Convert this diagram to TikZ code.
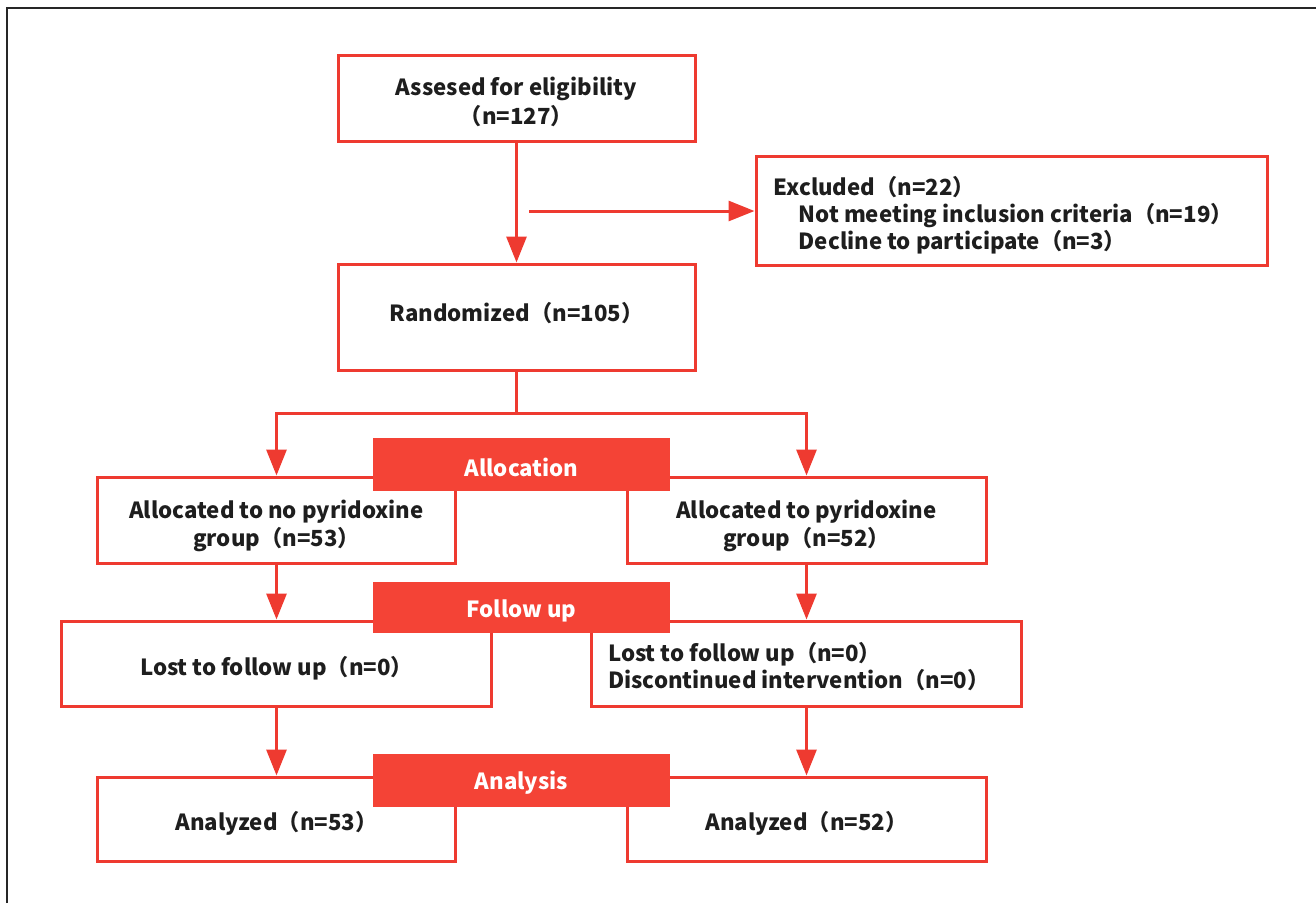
\documentclass[tikz,border=0pt]{standalone}
\usepackage{fontspec}
\setmainfont{Noto Sans CJK SC}
\usetikzlibrary{arrows.meta}
\definecolor{cred}{HTML}{EE3A30}
\definecolor{cband}{HTML}{F44336}
\definecolor{ctext}{HTML}{1E1E1E}
\begin{document}
\begin{tikzpicture}[x=1pt,y=-1pt,
  box/.style={draw=cred, line width=3pt, fill=white, inner sep=0pt},
  txt/.style={inner sep=0pt, align=center, font=\fontsize{22.2}{28.5}\selectfont\bfseries, text=ctext},
  ltxt/.style={txt, align=left, font=\fontsize{22.2}{27}\selectfont\bfseries},
  band/.style={fill=cband, inner sep=0pt, minimum width=297pt},
  btxt/.style={inner sep=0pt, text=white, font=\fontsize{22.2}{26}\selectfont\bfseries},
  arr/.style={draw=cred, line width=3pt, -{Triangle[length=26pt,width=20pt]}},
  ln/.style={draw=cred, line width=3pt}]
\useasboundingbox (0,0) rectangle (1316,903);
\draw[line width=2pt, black!85] (7,903) -- (7,8) -- (1316,8);

% boxes
\node[box, minimum width=357pt, minimum height=86pt] (b1) at (516.5,98) {};
\node[txt, yshift=-4pt] (b1t) at (b1) {Assesed for eligibility\\（n=127）};
\node[box, minimum width=357pt, minimum height=106pt] (b2) at (516.5,317) {};
\node[txt, yshift=4pt] (b2t) at (b2) {Randomized（n=105）};
\node[box, minimum width=511pt, minimum height=109pt] (exc) at (1011.5,210.5) {};
\node[ltxt, anchor=west, yshift=-5pt] (exct) at ([xshift=19pt]exc.west)
  {Excluded（n=22）\\\hspace*{25pt}Not meeting inclusion criteria（n=19）\\\hspace*{25pt}Decline to participate（n=3）};
\node[box, minimum width=358pt, minimum height=86pt] (alL) at (276.5,520) {};
\node[txt, yshift=-6pt] (alLt) at (alL) {Allocated to no pyridoxine\\group（n=53）};
\node[box, minimum width=359pt, minimum height=86pt] (alR) at (806.5,520) {};
\node[txt, yshift=-6pt] (alRt) at (alR) {Allocated to pyridoxine\\group（n=52）};
\node[box, minimum width=430pt, minimum height=85pt] (loL) at (276.5,663.5) {};
\node[txt, yshift=-5pt] (loLt) at (loL) {Lost to follow up（n=0）};
\node[box, minimum width=430pt, minimum height=85pt] (loR) at (806.5,663.5) {};
\node[ltxt, anchor=west, yshift=-3pt] (loRt) at ([xshift=18pt]loR.west)
  {Lost to follow up（n=0）\\Discontinued intervention（n=0）};
\node[box, minimum width=358pt, minimum height=84pt] (anL) at (276.5,819) {};
\node[txt, yshift=-4pt] (anLt) at (anL) {Analyzed（n=53）};
\node[box, minimum width=359pt, minimum height=84pt] (anR) at (806.5,819) {};
\node[txt, yshift=-4pt] (anRt) at (anR) {Analyzed（n=52）};

% banners
\node[band, minimum height=53pt] (alloc) at (521.5,464.5) {};
\node[btxt, yshift=-2.5pt] (alloct) at (alloc) {Allocation};
\node[band, minimum height=51pt] (fup) at (521.5,607.5) {};
\node[btxt, yshift=-3pt] (fupt) at (fup) {Follow up};
\node[band, minimum height=53pt] (anal) at (521.5,780.5) {};
\node[btxt, yshift=-2.5pt] (analt) at (anal) {Analysis};

% connectors
\coordinate (exs) at (529,211);
\coordinate (br) at (516.5,413);
\draw[arr] (b1.south) -- (b2.north);
\draw[arr] (exs) -- (exs -| exc.west);
\draw[ln] (b2.south) -- (br);
\draw[arr] (br) -| (alL.north);
\draw[arr] (br) -| (alR.north);
\draw[arr] (alL.south) -- (loL.north);
\draw[arr] (alR.south) -- (loR.north);
\draw[arr] (loL.south) -- (anL.north);
\draw[arr] (loR.south) -- (anR.north);
\end{tikzpicture}
\end{document}
